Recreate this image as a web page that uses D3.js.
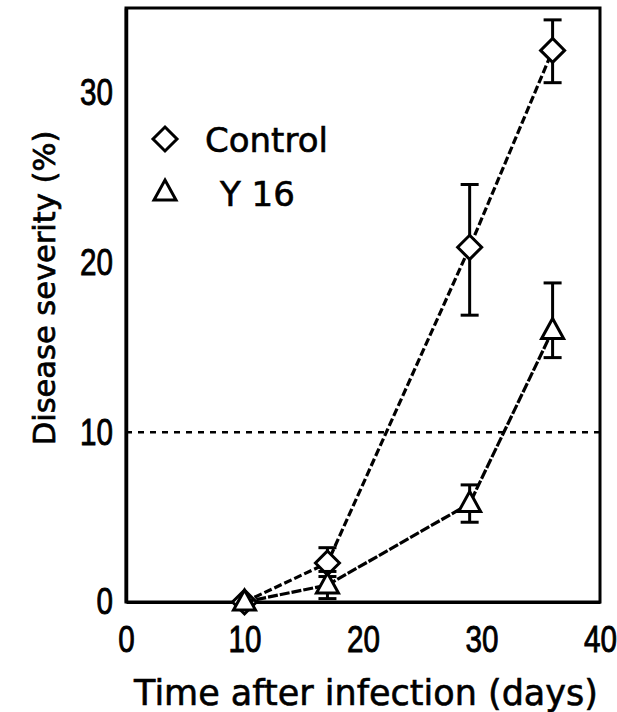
<!DOCTYPE html>
<html><head><meta charset="utf-8">
<script src="https://cdn.jsdelivr.net/npm/d3@7"></script>
<style>body{margin:0;background:#fff}svg{display:block}</style>
</head><body><div id="chart"></div>
<script>
const days = [10, 17, 29, 36];
const controlMean = [0, 2.3, 20.9, 32.5];
const controlLow  = [0, 1.5, 16.9, 30.6];
const controlHigh = [0, 3.2, 24.6, 34.3];
const y16Mean = [0, 1.0, 5.8, 16.0];
const y16Low  = [0, 0.2, 4.7, 14.4];
const y16High = [0, 1.8, 6.9, 18.8];
const xTicks = [0, 10, 20, 30, 40];
const yTicks = [0, 10, 20, 30];
const threshold = 10;
const seriesNames = ["Control", "Y 16"];

const W = 617, H = 712;
const m = {left: 126, right: 17, top: 8, bottom: 110};
const svg = d3.select("#chart").append("svg").attr("width", W).attr("height", H);
svg.append("rect").attr("width", W).attr("height", H).attr("fill", "#fff");

const x = d3.scaleLinear().domain([0, 40]).range([m.left, W - m.right]);
const y = d3.scaleLinear().domain([0, 35]).range([H - m.bottom, m.top]);

// frame
svg.append("rect").attr("x", x(0)).attr("y", y(35)).attr("width", x(40) - x(0)).attr("height", y(0) - y(35))
  .attr("fill", "none").attr("stroke", "#000").attr("stroke-width", 3);

const tickFont = "'Liberation Sans', Arial, sans-serif";
const gx = svg.append("g").attr("transform", `translate(0,${y(0)})`)
  .call(d3.axisBottom(x).tickValues(xTicks).tickSize(0).tickPadding(24).tickFormat(d3.format("d")));
gx.select(".domain").attr("stroke-width", 3);
gx.selectAll("text").attr("font-family", tickFont).attr("font-size", 37).attr("fill", "#000")
  .attr("stroke", "#000").attr("stroke-width", 0.9).attr("transform", "scale(0.8,1)");

const gy = svg.append("g").attr("transform", `translate(${x(0)},0)`)
  .call(d3.axisLeft(y).tickValues(yTicks).tickSize(0).tickPadding(14).tickFormat(d3.format("d")));
gy.select(".domain").attr("stroke-width", 3.5);
gy.selectAll("text").attr("font-family", tickFont).attr("font-size", 37).attr("fill", "#000")
  .attr("stroke", "#000").attr("stroke-width", 0.9)
  .attr("x", -13 / 0.8).attr("transform", "scale(0.8,1)");

// threshold
svg.append("line").attr("x1", x(0)).attr("x2", x(40)).attr("y1", y(threshold)).attr("y2", y(threshold))
  .attr("stroke", "#000").attr("stroke-width", 2.5).attr("stroke-dasharray", "6,6");

const series = [
  {name: seriesNames[0], mean: controlMean, lo: controlLow, hi: controlHigh, shape: "diamond", dash: "8,3"},
  {name: seriesNames[1], mean: y16Mean, lo: y16Low, hi: y16High, shape: "triangle", dash: "10,2"}
];

const line = d3.line().x(d => x(d[0])).y(d => y(d[1]));
function markerPath(shape, cx, cy) {
  if (shape === "diamond") return `M${cx},${cy-12}L${cx+12},${cy}L${cx},${cy+12}L${cx-12},${cy}Z`;
  return `M${cx},${cy-12}L${cx+11},${cy+8}L${cx-11},${cy+8}Z`;
}

series.forEach(s => {
  const pts = days.map((d, i) => [d, s.mean[i]]);
  svg.append("path").attr("d", line(pts)).attr("fill", "none").attr("stroke", "#000")
    .attr("stroke-width", 3.2).attr("stroke-dasharray", s.dash);
  days.forEach((d, i) => {
    if (s.hi[i] > s.lo[i]) {
      const g = svg.append("g").attr("stroke", "#000").attr("stroke-width", 3);
      g.append("line").attr("x1", x(d)).attr("x2", x(d)).attr("y1", y(s.lo[i])).attr("y2", y(s.hi[i]));
      g.append("line").attr("x1", x(d) - 9).attr("x2", x(d) + 9).attr("y1", y(s.lo[i])).attr("y2", y(s.lo[i]));
      g.append("line").attr("x1", x(d) - 9).attr("x2", x(d) + 9).attr("y1", y(s.hi[i])).attr("y2", y(s.hi[i]));
    }
    svg.append("path").attr("d", markerPath(s.shape, x(d), y(s.mean[i])))
      .attr("fill", "#fff").attr("stroke", "#000").attr("stroke-width", 3);
  });
});

// legend
const lf = "'DejaVu Sans', Verdana, sans-serif";
svg.append("path").attr("d", markerPath("diamond", 165, 139)).attr("fill", "#fff").attr("stroke", "#000").attr("stroke-width", 3);
svg.append("text").attr("x", 205).attr("y", 152).attr("font-family", lf).attr("font-size", 34)
  .attr("stroke", "#000").attr("stroke-width", 0.6).text(seriesNames[0]);
svg.append("path").attr("d", markerPath("triangle", 165, 192)).attr("fill", "#fff").attr("stroke", "#000").attr("stroke-width", 3);
svg.append("text").attr("x", 220).attr("y", 206).attr("font-family", lf).attr("font-size", 34)
  .attr("stroke", "#000").attr("stroke-width", 0.6).text(seriesNames[1]);

// axis titles
svg.append("text").attr("x", (x(0) + x(40)) / 2 + 3).attr("y", 705).attr("text-anchor", "middle")
  .attr("font-family", lf).attr("font-size", 35).attr("stroke", "#000").attr("stroke-width", 0.6)
  .text("Time after infection (days)");
svg.append("text").attr("transform", `translate(55,288) rotate(-90)`).attr("text-anchor", "middle")
  .attr("font-family", lf).attr("font-size", 30.5).attr("stroke", "#000").attr("stroke-width", 0.7)
  .text("Disease severity (%)");
</script></body></html>
